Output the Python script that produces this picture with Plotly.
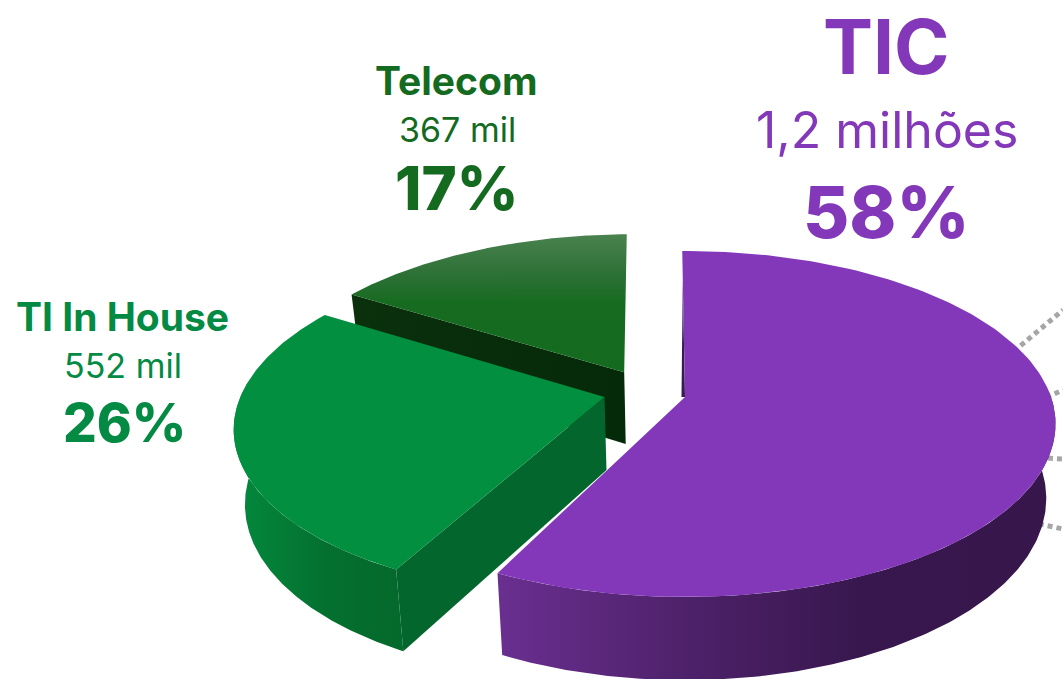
import numpy as np
import plotly.graph_objects as go

# ---- data ----
segments = ["TIC", "TI In House", "Telecom"]
shares = [58, 26, 17]
amounts = ["1,2 milhões", "552 mil", "367 mil"]
# how much of the full turn each slice really covers in the picture, and the gap after it
drawn_percent = [57.4, 26.2, 15.86]
gap_percent = [0.4, 0.0, 0.0]

# ---- view of the tilted disc, in page pixels ----
CX, CY, A, B, P = 685, 397, 366, 168.8, 0.156
ROT = -0.5
OFFSET = {"TIC": (0, 0), "TI In House": (-0.22, 0.0), "Telecom": (-0.17, 0.15)}
RADIUS = {"TIC": 1.0, "TI In House": 0.995, "Telecom": 0.985}
INK = {"TIC": "#8338ba", "TI In House": "#029040", "Telecom": "#146b1f"}

def project(name, deg):
    t = np.radians(np.asarray(deg, float))
    r = RADIUS[name]
    du, dv = OFFSET[name]
    u, v = r * np.sin(t) + du, r * np.cos(t) + dv
    w = 1 + P * v
    return CX + A * u / w, CY - B * v / w

def apex(name):
    du, dv = OFFSET[name]
    w = 1 + P * dv
    return CX + A * du / w, CY - B * dv / w

def drop(x, y):
    x, y = np.asarray(x, float), np.asarray(y, float)
    return CX + (x - CX) * 0.975, 468 + (y - 395) * 1.05

edges = {}
start = ROT
for s, v, g in zip(segments, drawn_percent, gap_percent):
    edges[s] = (start, start + 3.6 * v)
    start += 3.6 * (v + g)

fig = go.Figure()

def poly(x, y, color=None, gradient=None):
    x, y = np.asarray(x, float), np.asarray(y, float)
    kw = dict(fillgradient=gradient) if gradient else dict(fillcolor=color)
    fig.add_trace(go.Scatter(x=np.r_[x, x[0]], y=np.r_[y, y[0]], mode="lines", fill="toself",
                             line=dict(width=0), hoverinfo="skip", showlegend=False, **kw))

def wedge(name):
    a0, a1 = edges[name]
    th = np.linspace(a0, a1, 160)
    x, y = project(name, th)
    ax, ay = apex(name)
    return np.r_[ax, x], np.r_[ay, y]

def outer_wall(name, a0, a1, gradient):
    th = np.linspace(a0, a1, 160)
    x, y = project(name, th)
    bx, by = drop(x, y)
    poly(np.r_[x, bx[::-1]], np.r_[y, by[::-1]], gradient=gradient)

def radial_wall(name, deg, gradient):
    ax, ay = apex(name)
    ex, ey = project(name, deg)
    tx, ty = np.array([ax, float(ex)]), np.array([ay, float(ey)])
    bx, by = drop(tx, ty)
    poly(np.r_[tx, bx[::-1]], np.r_[ty, by[::-1]], gradient=gradient)

# leader lines that run behind the purple slice
leaders = [((1000, 363), (1063, 310)), ((1030, 405), (1063, 390)),
           ((1030, 457), (1063, 459)), ((1030, 522), (1063, 529))]
for (x0, y0), (x1, y1) in leaders:
    fig.add_trace(go.Scatter(x=[x0, x1], y=[y0, y1], mode="lines", hoverinfo="skip", showlegend=False,
                             line=dict(color="#a6a6a6", width=5, dash="5px,4px")))

# Telecom
radial_wall("Telecom", edges["Telecom"][0],
            dict(type="horizontal", colorscale=[[0, "#0a300c"], [1, "#052a09"]]))
x, y = wedge("Telecom")
poly(x, y, gradient=dict(type="vertical",
                         colorscale=[[0, "#146b1f"], [0.5, "#166b20"], [0.7, "#2c7035"], [1, "#4a824f"]]))

# TI In House
a0, a1 = edges["TI In House"]
outer_wall("TI In House", a0, 275,
           dict(type="horizontal", colorscale=[[0, "#04893e"], [0.55, "#04702f"], [1, "#04692c"]]))
radial_wall("TI In House", a0, dict(type="horizontal", colorscale=[[0, "#03662c"], [1, "#03662c"]]))
x, y = wedge("TI In House")
poly(x, y, color=INK["TI In House"])

# TIC
a0, a1 = edges["TIC"]
outer_wall("TIC", 88, a1,
           dict(type="horizontal", colorscale=[[0, "#6a2f90"], [0.35, "#4d2169"], [0.65, "#38174e"], [1, "#36164b"]]))
ax, ay = apex("TIC")
ex, ey = project("TIC", a0)
ex, ey = float(ex), float(ey)
t = np.linspace(0.2, 1, 20)
poly(np.r_[ex + (ax - ex) * t, (ex + (ax - ex) * t)[::-1] - 3.5 * t[::-1]],
     np.r_[ey + (ay - ey) * t, (ey + (ay - ey) * t)[::-1]], color="#3a1a52")
x, y = wedge("TIC")
poly(x, y, color=INK["TIC"])

# ---- labels ----
FONT = "Inter"
TEXT = {"TIC": "#8338ba", "TI In House": "#048a43", "Telecom": "#146b1f"}
PLACES = {
    "TIC": ((886, 46, 75), (887, 130, 50), (886, 212, 71)),
    "TI In House": ((122, 316, 39), (123, 365, 34), (124, 423, 53)),
    "Telecom": ((456, 80, 39), (457, 129, 34), (457, 188, 60)),
}
for s, amt, pct in zip(segments, amounts, shares):
    rows = PLACES[s]
    for (xx, yy, size), txt, weight in zip(rows, (s, amt, f"{pct}%"), (700, 400, 800)):
        fig.add_annotation(x=xx, y=yy, text=txt, showarrow=False, xanchor="center", yanchor="middle",
                           font=dict(family=FONT, size=size, color=TEXT[s], weight=weight))

fig.update_layout(width=1063, height=679, margin=dict(l=0, r=0, t=0, b=0),
                  paper_bgcolor="white", plot_bgcolor="white", showlegend=False,
                  xaxis=dict(range=[0, 1063], visible=False, fixedrange=True),
                  yaxis=dict(range=[679, 0], visible=False, fixedrange=True))

fig.write_html("out.html", config=dict(displayModeBar=False),
               post_script="document.body.style.margin='0';")
